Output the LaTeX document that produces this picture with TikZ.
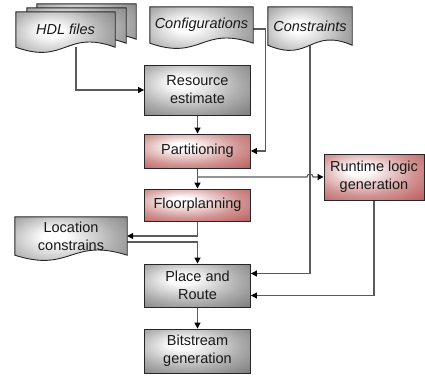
\documentclass[tikz,border=0pt]{standalone}
\usepackage{fontspec}
\setmainfont{Liberation Sans}
\usetikzlibrary{backgrounds, arrows.meta, calc}
\pgfdeclarelayer{wires}
\pgfsetlayers{wires,background,main}
\definecolor{boxred}{RGB}{180,76,76}
\definecolor{wiregray}{RGB}{90,90,90}
\pgfdeclareradialshading{grayshade}{\pgfpoint{-8bp}{8bp}}{color(0bp)=(white);
  color(5bp)=(white); color(25bp)=(black!32); color(45bp)=(black!58);
  color(70bp)=(black!85)}
\pgfdeclareradialshading{redshade}{\pgfpoint{-8bp}{8bp}}{color(0bp)=(white);
  color(5bp)=(white); color(25bp)=(boxred!60); color(45bp)=(boxred);
  color(70bp)=(boxred!70!black)}
\tikzset{
  gbox/.style = {rectangle, draw=black!85, line width=0.9pt, shade,
    shading=grayshade, text=black!90, align=center, minimum width=106pt,
    inner sep=2pt, font=\fontsize{14.5}{18}\selectfont},
  rbox/.style = {gbox, shading=redshade},
  doc/.style = {rectangle, inner sep=0pt, align=center, text=black!90,
    font=\fontsize{14.5}{18}\selectfont},
  idoc/.style = {doc, font=\fontsize{14.5}{18}\selectfont\itshape},
  docbg/.style = {draw=black!85, line width=0.9pt, shade, shading=grayshade},
  seta/.style = {-{Triangle[length=6pt, width=6pt, color=black]},
    draw=wiregray, line width=1.1pt}
}
\newcommand{\docshape}[1]{%
  \path [docbg] (#1.north west) -- (#1.north east) -- (#1.south east)
    .. controls ([yshift=18pt]#1.south) and ([yshift=-18pt]#1.south)
    .. (#1.south west) -- cycle;}

\begin{document}
\begin{tikzpicture}[x=1pt, y=-1pt]
  \useasboundingbox (0,0) rectangle (425,375);
  \node [doc, minimum width=99pt, minimum height=35pt] (hdl2) at (86.5,21.5) {};
  \node [doc, minimum width=99pt, minimum height=35pt] (hdl1) at (76.5,25.5) {};
  \node [idoc, minimum width=99pt, minimum height=35pt] (hdl) at (65.5,29.5) {HDL files};
  \node [idoc, minimum width=103pt, minimum height=36pt] (cfg) at (201.5,25) {Configurations};
  \node [idoc, minimum width=84pt, minimum height=38pt] (cns) at (310,26) {Constraints};
  \node [doc, minimum width=112pt, minimum height=38pt] (loc) at (71,236) {Location\\constrains};
  \begin{scope}[on background layer]
    \foreach \d in {hdl2,hdl1,hdl,cfg,cns,loc} \docshape{\d};
  \end{scope}
  \node [gbox, minimum height=50pt] (res) at (197.5,90) {Resource\\estimate};
  \node [rbox, minimum height=34pt] (par) at (197.5,151) {Partitioning};
  \node [rbox, minimum height=32pt] (flp) at (197.5,205) {Floorplanning};
  \node [rbox, minimum width=100pt, minimum height=46pt] (rtl) at (374,177) {Runtime logic\\generation};
  \node [gbox, minimum height=43pt] (pnr) at (197.5,285.5) {Place and\\Route};
  \node [gbox, minimum height=44pt] (bit) at (197.5,351) {Bitstream\\generation};
  \begin{pgfonlayer}{wires}
    \draw [seta] ([xshift=10.5pt]hdl.south) |- (res.west);
    \draw [seta] (res.south) -- (par.north);
    \draw [seta] ([yshift=-4pt]cfg.east) -- ++(12,0) |- (par.east);
    \draw [seta] (cns.south) |- ([yshift=12pt]pnr.east);
    \draw [seta] (par.south) -- (flp.north);
    \coordinate (split) at (par.south |- rtl.west);
    \coordinate (hop) at (cns.south |- rtl.west);
    \draw [seta] (split) -- ([xshift=-3pt]hop) arc [start angle=180, end angle=0,
      radius=3pt] -- (rtl.west);
    \draw [seta] (rtl.south) |- ([yshift=-10pt]pnr.east);
    \draw [seta] (flp.south) |- (loc.east);
    \draw [seta] ([yshift=-6pt]loc.east) -| (pnr.north);
    \draw [seta] (pnr.south) -- (bit.north);
  \end{pgfonlayer}
\end{tikzpicture}
\end{document}
